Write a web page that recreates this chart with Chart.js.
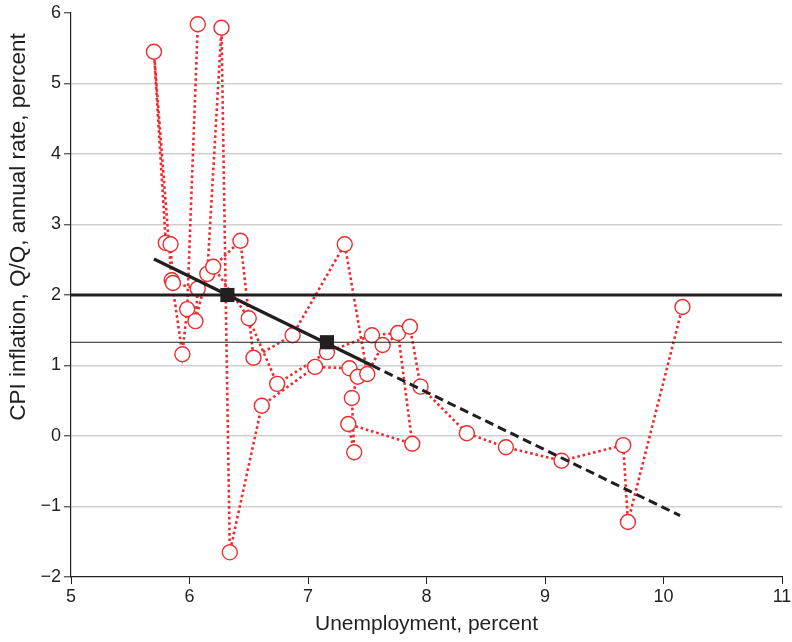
<!DOCTYPE html>
<html>
<head>
<meta charset="utf-8">
<script src="https://cdn.jsdelivr.net/npm/chart.js@4.4.1/dist/chart.umd.min.js"></script>
<style>
  html, body { margin: 0; padding: 0; background: #fff; }
  #wrap { width: 792px; height: 642px; }
</style>
</head>
<body>
<div id="wrap"><canvas id="c" width="792" height="642"></canvas></div>
<script>
// Quarterly observations, in time order: unemployment (%) and CPI inflation (Q/Q, annual rate, %)
const unemployment = [6.07, 5.98, 5.94, 5.85, 5.70, 5.80, 5.84, 5.86, 6.07, 6.05, 6.15, 6.27, 6.34, 6.61, 7.06,
  7.35, 7.42, 7.37, 7.39, 7.34, 7.88, 7.76, 7.54, 7.16, 6.74, 6.50, 6.20, 6.43, 6.54, 6.87, 7.31, 7.50, 7.63,
  7.86, 7.95, 8.34, 8.67, 9.14, 9.66, 9.70, 10.16];
const inflation = [5.84, 1.80, 1.16, 2.21, 5.45, 2.74, 2.72, 2.17, 2.09, 1.63, 2.30, 5.79, -1.65, 0.43, 0.98,
  0.96, 0.84, 0.54, -0.23, 0.17, -0.11, 1.46, 1.43, 1.19, 0.74, 1.67, 2.40, 2.77, 1.11, 1.43, 2.72, 0.88, 1.29,
  1.55, 0.70, 0.04, -0.16, -0.35, -0.13, -1.22, 1.83];

// Trend line: solid over the observed range, dashed beyond it
const trendSolidX = [5.70, 7.54];
const trendSolidY = [2.51, 1.00];
const trendDashX = [7.54, 10.14];
const trendDashY = [1.00, -1.13];

// Highlighted points on the trend line
const markerX = [6.32, 7.16];
const markerY = [2.00, 1.33];

// Horizontal reference levels
const targetLevel = 2.0;
const lowerLevel = 1.33;

const xTicks = [5, 6, 7, 8, 9, 10, 11];
const yTicks = [-2, -1, 0, 1, 2, 3, 4, 5, 6];
const yTitle = 'CPI inflation, Q/Q, annual rate, percent';

const toPts = (xs, ys) => xs.map((x, i) => ({ x: x, y: ys[i] }));
const xMin = xTicks[0], xMax = xTicks[xTicks.length - 1];

const FONT = "'Liberation Sans', Arial, sans-serif";
const INK = '#231f20';
const RED = '#ee2b2e';

// Vertical axis title, set toward the upper part of the axis
const yTitlePlugin = {
  id: 'yTitleText',
  afterDraw(chart) {
    const ctx = chart.ctx;
    ctx.save();
    ctx.translate(19, 227);
    ctx.rotate(-Math.PI / 2);
    ctx.fillStyle = INK;
    ctx.font = '22.5px ' + FONT;
    ctx.textAlign = 'center';
    ctx.textBaseline = 'middle';
    ctx.fillText(yTitle, 0, 0);
    ctx.restore();
  }
};

new Chart(document.getElementById('c'), {
  type: 'scatter',
  plugins: [yTitlePlugin],
  data: {
    datasets: [
      {
        data: toPts(unemployment, inflation),
        showLine: true,
        borderColor: RED,
        borderWidth: 2.6,
        borderDash: [2.6, 2.8],
        pointRadius: 7.5,
        pointBorderWidth: 1.4,
        pointBorderColor: RED,
        pointBackgroundColor: '#ffffff',
        order: 5
      },
      {
        data: [{ x: xMin, y: targetLevel }, { x: xMax, y: targetLevel }],
        showLine: true, borderColor: INK, borderWidth: 3, pointRadius: 0, order: 4
      },
      {
        data: [{ x: xMin, y: lowerLevel }, { x: xMax, y: lowerLevel }],
        showLine: true, borderColor: INK, borderWidth: 1.2, pointRadius: 0, order: 4
      },
      {
        data: toPts(trendSolidX, trendSolidY),
        showLine: true, borderColor: INK, borderWidth: 3.2, pointRadius: 0, order: 3
      },
      {
        data: toPts(trendDashX, trendDashY),
        showLine: true, borderColor: INK, borderWidth: 3, borderDash: [9, 5], pointRadius: 0, order: 3
      },
      {
        data: toPts(markerX, markerY),
        showLine: false, pointStyle: 'rect', pointRadius: 10,
        pointBackgroundColor: INK, pointBorderColor: INK, pointBorderWidth: 0, order: 1
      }
    ]
  },
  options: {
    responsive: false,
    animation: false,
    layout: { padding: { top: 13, right: 6, left: 0, bottom: 0 } },
    plugins: { legend: { display: false }, tooltip: { enabled: false } },
    scales: {
      x: {
        type: 'linear', min: xMin, max: xMax,
        afterBuildTicks: (s) => { s.ticks = xTicks.map(v => ({ value: v })); },
        grid: { drawOnChartArea: false, tickColor: INK, tickLength: 7, tickWidth: 1 },
        border: { color: INK, width: 1.2 },
        ticks: { color: INK, font: { family: FONT, size: 18 }, padding: 2, maxRotation: 0 },
        title: { display: true, text: 'Unemployment, percent', color: INK,
                 font: { family: FONT, size: 21 }, padding: { top: 0, bottom: 5 } },
        afterFit: (s) => { s.height = 65; s.paddingLeft = 0; s.paddingRight = 0; }
      },
      y: {
        type: 'linear', min: yTicks[0], max: yTicks[yTicks.length - 1],
        afterBuildTicks: (s) => { s.ticks = yTicks.map(v => ({ value: v })); },
        grid: {
          color: (ctx) => (ctx.tick && (ctx.tick.value === 6 || ctx.tick.value === -2)) ? 'rgba(0,0,0,0)' : '#cfcfcf',
          lineWidth: 1.6, tickColor: INK, tickLength: 7, tickWidth: 1
        },
        border: { color: INK, width: 1.2 },
        ticks: {
          color: INK, font: { family: FONT, size: 18 }, padding: 3,
          callback: (v) => String(v).replace('-', '\u2212')
        },
        title: { display: false },
        afterFit: (s) => { s.width = 71; s.paddingTop = 0; s.paddingBottom = 0; }
      }
    }
  }
});
</script>
</body>
</html>
